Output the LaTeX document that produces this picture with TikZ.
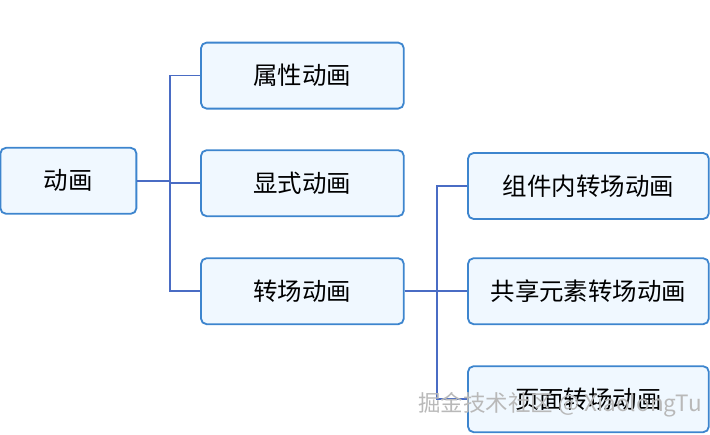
\documentclass[tikz,border=0pt]{standalone}
\usepackage{fontspec}
\setmainfont{Noto Sans CJK SC}
\usepackage{tikz}
\usetikzlibrary{positioning}
\definecolor{boxline}{HTML}{3D85CE}
\definecolor{boxfill}{HTML}{F0F8FF}
\definecolor{linkcol}{HTML}{4A6CC4}

\begin{document}
\begin{tikzpicture}[
  box/.style={draw=boxline, fill=boxfill, line width=1.3pt, rounded corners=4pt,
    minimum height=1.65cm, font=\fontsize{17.4}{19}\selectfont},
  link/.style={draw=linkcol, line width=1.2pt}
]
\useasboundingbox (0,0) rectangle (17.75,-10.85);
% Define the nodes
\node[box, minimum width=3.4cm] (anim) at (1.71,-4.52) {动画};
\node[box, minimum width=5.07cm] (shuxing) at (7.56,-1.89) {属性动画};
\node[box, minimum width=5.07cm] (xianshi) at (7.56,-4.58) {显式动画};
\node[box, minimum width=5.07cm] (zhuanchang) at (7.56,-7.28) {转场动画};
\node[box, minimum width=6.02cm] (zujian) at (14.71,-4.65) {组件内转场动画};
\node[box, minimum width=6.02cm] (gongxiang) at (14.71,-7.28) {共享元素转场动画};
\node[box, minimum width=6.02cm] (yemian) at (14.71,-9.98) {页面转场动画};

% Draw the connectors
\draw[link] (anim.east) -- ++(0.82,0) |- (shuxing.west);
\draw[link] (anim.east) -- ++(0.82,0) |- (xianshi.west);
\draw[link] (anim.east) -- ++(0.82,0) |- (zhuanchang.west);
\draw[link] (zhuanchang.east) -- ++(0.8,0) |- (zujian.west);
\draw[link] (zhuanchang.east) -- ++(0.8,0) |- (gongxiang.west);
\draw[link] (zhuanchang.east) -- ++(0.8,0) |- (yemian.west);

% Watermark
\node[text=gray!55, font=\fontsize{16}{18}\selectfont] (mark) at (14.0,-10.12) {掘金技术社区 @ XiaolongTu};
\end{tikzpicture}
\end{document}
